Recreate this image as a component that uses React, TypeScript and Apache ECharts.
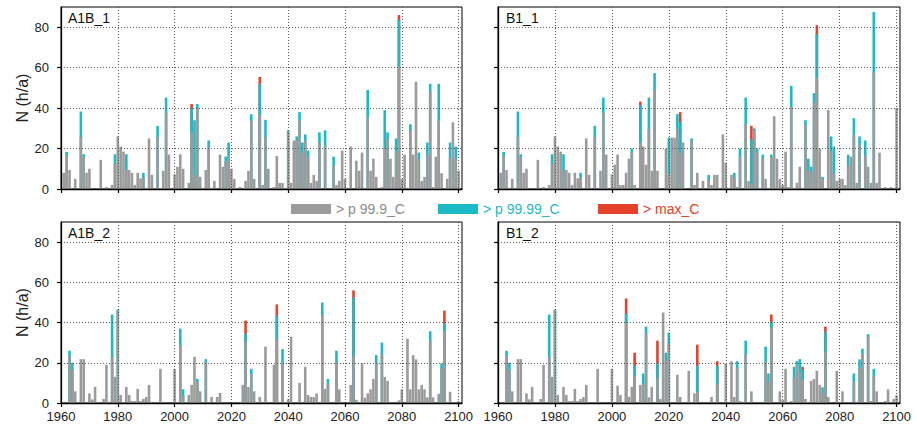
import React, { useEffect, useRef } from 'react';
import * as echarts from 'echarts';

const firstYear = 1961;
const xTickValues = [1960, 1980, 2000, 2020, 2040, 2060, 2080, 2100];
const yTickValues = [0, 20, 40, 60, 80];
const legendNames = ['> p 99.9_C', '> p 99.99_C', '> max_C'];
const panelLabels = ['A1B_1', 'B1_1', 'A1B_2', 'B1_2'];

// ---- grey (> p 99.9_C) bar tops, 1961-2000, shared historical run (top row)
const histGrey1 = [
  8, 16.5, 9.4, 0, 5, 0, 25.7, 16, 8, 10,
  0, 0, 0, 14.4, 0, 1, 0, 2, 12.5, 26,
  21, 18.5, 9.4, 9.4, 8, 2, 8, 5.3, 5.6, 0,
  25, 7, 0, 25.7, 0, 9, 37.8, 17, 0, 7.3,
];
const histCyan1: [number, number][] = [
  [1962, 18.3], [1967, 38.3], [1968, 17.2], [1979, 17.2], [1983, 17.2], [1989, 8], [1994, 31.2], [1997, 45.2],
];
// ---- A1B_1, 2001-2100
const a1b1Grey = [
  11, 17.2, 10, 0, 3, 28, 7, 40, 6, 0,
  9.4, 20.5, 0, 4, 0, 17, 11, 13.5, 16, 10,
  5, 0, 1, 0, 4, 9, 33.8, 5, 0, 36.6,
  2, 25.6, 10, 0, 1, 16.3, 3, 3, 0, 28,
  3, 24, 24, 34, 18, 24, 16, 3, 7, 4,
  23, 0, 21.5, 0, 0, 11.5, 2, 4, 19, 5,
  0, 21, 0, 14, 9, 18, 0, 35.8, 9, 15,
  6, 0, 1, 20, 25, 15, 6, 18.5, 60.5, 5,
  17, 0, 28.7, 17, 53, 14.7, 4, 6, 17, 47.9,
  1, 16, 33.8, 7.8, 0, 5, 15.5, 33, 15, 9,
];
const a1b1Cyan: [number, number][] = [
  [2006, 40], [2007, 34], [2008, 42], [2012, 24], [2018, 16], [2019, 23], [2027, 37], [2030, 51.8],
  [2032, 34.2], [2040, 29], [2043, 26], [2044, 38], [2045, 23], [2046, 27], [2047, 19], [2051, 28],
  [2053, 29], [2056, 16], [2068, 49], [2074, 39], [2075, 28], [2078, 25], [2079, 83.8], [2083, 32],
  [2086, 18], [2089, 23], [2090, 52], [2093, 52], [2097, 23], [2099, 21],
];
const a1b1Red: [number, number][] = [[2006, 42], [2030, 55.4], [2079, 86]];

// ---- B1_1, 2001-2100
const b1_1Grey = [
  12, 17, 2, 2, 8, 15, 18.5, 2, 0, 23,
  21, 12, 29.7, 9, 48.8, 9, 0, 0, 20, 7.3,
  25.4, 25.4, 29.7, 18, 23, 0, 0, 24, 2, 8,
  0, 4, 0, 4.5, 2, 7, 7, 0, 27, 13,
  0, 7, 5.6, 1, 15.7, 0, 32, 4, 2.5, 28.7,
  18.5, 0, 15, 5, 0, 15.7, 36, 15, 5, 2,
  18.5, 1, 40.7, 0, 3, 11, 0, 31.7, 9.4, 8.6,
  42.7, 54.8, 20, 4.8, 0, 39, 19, 7.8, 4, 5,
  5, 2, 11.5, 16, 27, 3, 21.8, 0, 16.5, 11,
  3, 57.8, 3, 18, 0, 1, 0, 1, 0, 40,
];
const b1_1Cyan: [number, number][] = [
  [2007, 20], [2010, 41.6], [2013, 45.2], [2015, 57.3], [2020, 25.4], [2023, 37], [2024, 33], [2028, 25],
  [2034, 7], [2043, 8], [2045, 20], [2047, 45.2], [2049, 24.6], [2050, 30], [2051, 20], [2053, 17],
  [2056, 17], [2063, 51], [2068, 34], [2069, 15], [2070, 11], [2071, 47.4], [2072, 76.6], [2074, 6],
  [2077, 26], [2078, 21], [2083, 17], [2085, 35], [2087, 26], [2089, 24], [2092, 87.5],
];
const b1_1Red: [number, number][] = [[2010, 43.2], [2024, 38], [2049, 31.2], [2072, 81]];

// ---- shared historical run (bottom row), 1961-2000
const histGrey2 = [
  0, 0, 23.3, 16.4, 5.8, 0, 21.8, 21.8, 0, 4.8,
  1.8, 8, 0, 0, 2, 19, 0, 22.8, 13, 46,
  4, 0, 8, 4, 1, 1, 7, 1, 2, 3,
  9, 0, 0, 0, 17, 0, 0, 0, 0, 17,
];
const histCyan2: [number, number][] = [[1963, 26], [1964, 20], [1978, 44], [1980, 46.5]];

// ---- A1B_2, 2001-2100
const a1b2Grey = [
  0, 28.6, 3.5, 0, 4, 9, 23, 10.7, 5.8, 0,
  20.5, 0, 3, 0, 3, 5, 0, 0, 0, 0,
  0, 0, 0, 9, 30.4, 8, 14.5, 5.8, 0, 3,
  0, 28, 0, 0, 19, 31.6, 0, 19.7, 0, 1.8,
  33, 0, 0, 10, 0, 18, 4, 3, 3, 4.8,
  0, 43.6, 7, 9.7, 0, 0, 20, 6.8, 0, 0,
  0, 9, 23.5, 1.6, 0, 19.7, 2.6, 4.8, 6.8, 12,
  19.7, 0, 24.3, 13, 11, 0, 0, 0, 1.3, 6.8,
  0, 32, 6.8, 23.8, 21.7, 6.8, 9, 6.8, 2.8, 31,
  2.8, 0, 4.6, 17.5, 35.7, 0, 5.6, 0, 0, 1,
];
const a1b2Cyan: [number, number][] = [
  [2002, 37], [2003, 6.8], [2008, 12], [2011, 21.8], [2025, 34.5], [2027, 17], [2036, 43.5], [2038, 26.8],
  [2052, 50], [2054, 12], [2057, 26], [2063, 52.4], [2071, 23.8], [2073, 30], [2090, 35.7], [2094, 19.7],
  [2095, 39.5],
];
const a1b2Red: [number, number][] = [[2025, 41], [2036, 49], [2063, 56], [2095, 46]];

// ---- B1_2, 2001-2100
const b1_2Grey = [
  0, 8.6, 4, 0, 39.5, 3, 8, 13.5, 0, 9,
  9.4, 34.5, 2.8, 8, 0, 12.5, 2, 45, 21, 29.6,
  0, 0, 14, 3, 0, 0, 16, 0, 4.8, 5.6,
  0, 0, 0, 0, 3, 0, 9.4, 0, 0, 19.7,
  0, 20.7, 3, 17.5, 1, 0, 24.3, 0, 5.8, 0,
  0, 0, 0, 20.5, 10.4, 37.5, 0, 0, 5.8, 1.5,
  17, 0, 1, 12.5, 18.5, 15.5, 11.4, 2, 0, 11,
  12, 16, 9, 4.8, 25.5, 3, 0, 0, 16, 0,
  5.8, 0, 0, 0, 10.4, 0, 17.5, 24.3, 0, 33,
  1, 13.5, 5.8, 0, 0, 1, 6.8, 0, 2, 3.8,
];
const b1_2Cyan: [number, number][] = [
  [2005, 44.5], [2008, 18.5], [2011, 14.7], [2012, 38], [2016, 19.7], [2019, 25], [2020, 35], [2030, 18.5],
  [2037, 18.5], [2044, 20.8], [2047, 31], [2054, 28], [2055, 14.7], [2056, 40.3], [2064, 18], [2065, 20.8],
  [2066, 21.8], [2067, 16.4], [2074, 7.8], [2075, 35.4], [2085, 14.7], [2087, 21.7], [2088, 27], [2090, 34.2],
  [2092, 17],
];
const b1_2Red: [number, number][] = [
  [2005, 52], [2008, 25], [2016, 31], [2030, 29], [2037, 20.8], [2056, 44], [2067, 18], [2075, 38],
];

const GREY = '#9b9b9b';
const CYAN = '#1cbac6';
const RED = '#e5412b';
const FONT = '"Liberation Sans", Arial, Helvetica, sans-serif';

const gridRects = [
  { left: 61, top: 7, width: 401, height: 182 },
  { left: 498, top: 7, width: 402, height: 182 },
  { left: 61, top: 222, width: 401, height: 181 },
  { left: 498, top: 222, width: 402, height: 181 },
];

export default function App() {
  const ref = useRef<HTMLDivElement>(null);
  useEffect(() => {
    if (!ref.current) return;
    const chart = echarts.init(ref.current, null, { renderer: 'svg' });
    const panels = [
      { grey: [...histGrey1, ...a1b1Grey], cyan: [...histCyan1, ...a1b1Cyan], red: a1b1Red },
      { grey: [...histGrey1, ...b1_1Grey], cyan: [...histCyan1, ...b1_1Cyan], red: b1_1Red },
      { grey: [...histGrey2, ...a1b2Grey], cyan: [...histCyan2, ...a1b2Cyan], red: a1b2Red },
      { grey: [...histGrey2, ...b1_2Grey], cyan: [...histCyan2, ...b1_2Cyan], red: b1_2Red },
    ];
    const splitStyle = { color: '#5a5a5a', type: [1, 2] as any, width: 1 };
    const xAxes = gridRects.map((_, i) => ({
      type: 'value',
      gridIndex: i,
      min: 1960,
      max: 2101.2,
      interval: 20,
      z: 5,
      axisLine: { show: true, onZero: false, lineStyle: { color: '#000', width: 1.3 } },
      axisTick: { show: true, inside: false, length: 4, customValues: xTickValues, lineStyle: { color: '#000', width: 1.2 } },
      axisLabel: {
        show: i >= 2,
        customValues: xTickValues,
        formatter: (v: number) => (v % 20 === 0 ? String(v) : ''),
        fontSize: 13,
        color: '#222',
        fontFamily: FONT,
        margin: 7,
      },
      splitLine: { show: true, lineStyle: splitStyle },
    }));
    const yAxes = gridRects.map((_, i) => ({
      type: 'value',
      gridIndex: i,
      min: 0,
      max: 90,
      interval: 20,
      z: 5,
      name: i % 2 === 0 ? 'N (h/a)' : '',
      nameLocation: 'middle',
      nameGap: 26,
      nameTextStyle: { fontSize: 16, color: '#222', fontFamily: FONT },
      axisLine: { show: true, lineStyle: { color: '#000', width: 1.3 } },
      axisTick: { show: true, inside: false, length: 4, customValues: yTickValues, lineStyle: { color: '#000', width: 1.2 } },
      axisLabel: {
        show: i % 2 === 0,
        customValues: yTickValues,
        formatter: (v: number) => (v % 20 === 0 ? String(v) : ''),
        fontSize: 13,
        color: '#222',
        fontFamily: FONT,
        margin: 12,
      },
      splitLine: { show: true, lineStyle: splitStyle },
    }));
    const series: any[] = [];
    panels.forEach((p, i) => {
      const common = { type: 'bar', xAxisIndex: i, yAxisIndex: i, barWidth: 2.6, barGap: '-100%', z: 2 };
      series.push({ ...common, name: legendNames[2], data: p.red, itemStyle: { color: RED } });
      series.push({ ...common, name: legendNames[1], data: p.cyan, itemStyle: { color: CYAN } });
      series.push({
        ...common,
        name: legendNames[0],
        data: p.grey.map((v, k) => [firstYear + k, v]).filter((d) => d[1] > 0),
        itemStyle: { color: GREY },
      });
    });
    const legendCommon = {
      icon: 'rect',
      itemWidth: 40,
      itemHeight: 10,
      itemGap: 0,
      padding: 0,
      top: 202,
      selectedMode: false,
      textStyle: { fontSize: 14, fontFamily: FONT },
    };
    const labelPos = [
      [68, 18],
      [506, 18],
      [68, 233],
      [506, 233],
    ];
    chart.setOption({
      animation: false,
      backgroundColor: '#fff',
      grid: gridRects.map((g) => ({ ...g, show: true, borderColor: '#000', borderWidth: 1, backgroundColor: 'transparent' })),
      xAxis: xAxes,
      yAxis: yAxes,
      legend: [
        { ...legendCommon, left: 291, data: [{ name: legendNames[0], textStyle: { color: '#8c8c8c' } }] },
        { ...legendCommon, left: 438, data: [{ name: legendNames[1], textStyle: { color: CYAN } }] },
        { ...legendCommon, left: 598, data: [{ name: legendNames[2], textStyle: { color: RED } }] },
      ],
      graphic: panelLabels.map((t, i) => ({
        type: 'text',
        x: labelPos[i][0],
        y: labelPos[i][1],
        z: 10,
        style: { text: t, fontSize: 14, fontFamily: FONT, fill: '#111', verticalAlign: 'middle' },
      })),
      series,
    });
    return () => chart.dispose();
  }, []);
  return (
    <div
      ref={ref}
      style={{ position: 'fixed', left: 0, top: 0, width: 917, height: 431, background: '#fff' }}
    />
  );
}
